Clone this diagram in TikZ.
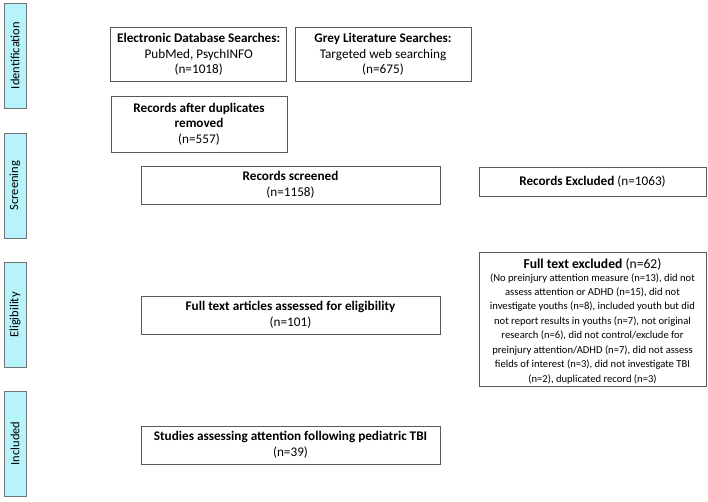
\documentclass[tikz,border=0pt]{standalone}
\usepackage{fontspec}
\setmainfont{Carlito}
\definecolor{phasefill}{RGB}{182,243,250}
\begin{document}
\begin{tikzpicture}[x=1pt,y=-1pt,
  box/.style={draw=black!65, line width=0.7pt, fill=white, align=center, inner sep=0pt, anchor=center},
  phase/.style={draw=black!55, line width=0.7pt, fill=phasefill, inner sep=0pt, minimum width=22pt, minimum height=105pt, anchor=center},
  phasetext/.style={rotate=90, font=\fontsize{12.5}{15}\selectfont},
  main/.style={font=\fontsize{13.2}{15.6}\selectfont}]
\useasboundingbox (0,0) rectangle (708,501);
% phases
\node[phase] (p1) at (15,55.5) {};
\node[phasetext] (t1) at (p1.center) {Identification};
\node[phase] (p2) at (15,185.5) {};
\node[phasetext] (t2) at (p2.center) {Screening};
\node[phase] (p3) at (15,315) {};
\node[phasetext] (t3) at (p3.center) {Eligibility};
\node[phase] (p4) at (15,443.5) {};
\node[phasetext] (t4) at (p4.center) {Included};
% boxes
\node[box, main, minimum width=176pt, minimum height=54pt] (edb) at (198.7,54.5)
  {\textbf{Electronic Database Searches:}\\PubMed, PsychINFO\\(n=1018)};
\node[box, main, minimum width=176pt, minimum height=54pt] (grey) at (383,54.5)
  {\textbf{Grey Literature Searches:}\\Targeted web searching\\(n=675)};
\node[box, main, minimum width=176pt, minimum height=56pt] (dup) at (199,124)
  {\textbf{Records after duplicates}\\\textbf{removed}\\(n=557)};
\node[box, main, minimum width=299pt, minimum height=38pt] (scr) at (290.5,185)
  {\textbf{Records screened}\\(n=1158)};
\node[box, main, minimum width=227pt, minimum height=29pt] (exc) at (592.5,181.5)
  {\textbf{Records Excluded} (n=1063)};
\node[box, minimum width=227pt, minimum height=133pt] (ftx) at (592.5,319.5)
  {{\fontsize{13.6}{15}\selectfont\rule{0pt}{16pt}\textbf{Full text excluded} (n=62)}\\[-0.5pt]
   {\fontsize{10.6}{14}\selectfont\renewcommand{\arraystretch}{1.03}%
   \begin{tabular}{@{}c@{}}
   (No preinjury attention measure (n=13), did not\\
   assess attention or ADHD (n=15), did not\\
   investigate youths (n=8), included youth but did\\
   not report results in youths (n=7), not original\\
   research (n=6), did not control/exclude for\\
   preinjury attention/ADHD (n=7), did not assess\\
   fields of interest (n=3), did not investigate TBI\\
   (n=2), duplicated record (n=3)
   \end{tabular}}};
\node[box, main, minimum width=299pt, minimum height=38pt] (fta) at (290.5,315)
  {\textbf{Full text articles assessed for eligibility}\\(n=101)};
\node[box, main, minimum width=299pt, minimum height=38pt] (inc) at (290.5,445)
  {\textbf{Studies assessing attention following pediatric TBI}\\(n=39)};
\end{tikzpicture}
\end{document}
